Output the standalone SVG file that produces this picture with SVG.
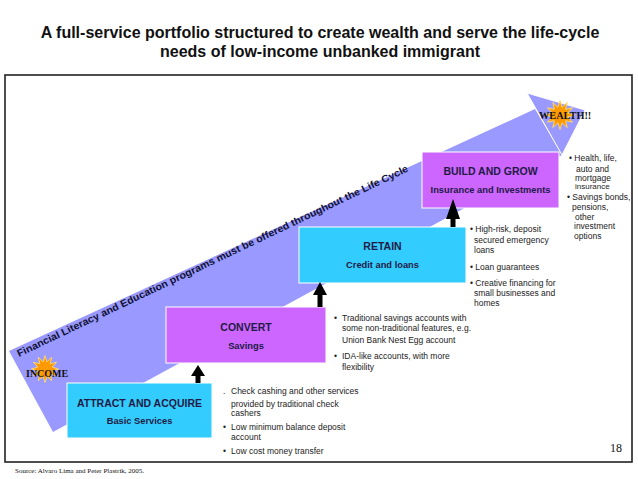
<svg xmlns="http://www.w3.org/2000/svg" xmlns:xlink="http://www.w3.org/1999/xlink" width="638" height="479" viewBox="0 0 638 479">
<style>
  .title{font-family:"Liberation Sans",Arial,sans-serif;font-weight:bold;font-size:16px;fill:#111;text-anchor:middle}
  .box-cyan{fill:#33CCFF;stroke:#ffffff;stroke-width:1}
  .box-purple{fill:#CC66FF;stroke:#ffffff;stroke-width:1}
  .bh{font-family:"Liberation Sans",Arial,sans-serif;font-weight:bold;font-size:10.5px;fill:#221a44;text-anchor:middle}
  .bs{font-family:"Liberation Sans",Arial,sans-serif;font-weight:bold;font-size:9.3px;fill:#221a44;text-anchor:middle}
  .bl{font-family:"Liberation Sans",Arial,sans-serif;font-size:8.5px;fill:#222}
  .serif{font-family:"Liberation Serif","Times New Roman",serif;fill:#111}
  .star{fill:#FF9900;stroke:#FFE070;stroke-width:0.6}
  .up{fill:#000}
</style>
<defs>
  <polygon id="star" points="10,0 5.31,1.42 8.66,5 3.89,3.89 5,8.66 1.42,5.31 0,10 -1.42,5.31 -5,8.66 -3.89,3.89 -8.66,5 -5.31,1.42 -10,0 -5.31,-1.42 -8.66,-5 -3.89,-3.89 -5,-8.66 -1.42,-5.31 0,-10 1.42,-5.31 5,-8.66 3.89,-3.89 8.66,-5 5.31,-1.42"/>
</defs>
<rect width="638" height="479" fill="#ffffff"/>
<text class="title" x="320" y="38">A full-service portfolio structured to create wealth and serve the life-cycle</text>
<text class="title" x="320" y="57">needs of low-income unbanked immigrant</text>
<rect id="frame" x="5" y="75" width="627" height="387" fill="#ffffff" stroke="#222" stroke-width="1.6"/>

<g id="lifecycle-band">
  <polygon points="9,351 535,109 562,155 53,432" fill="#9999FF"/>
  <polygon points="527,93 585,110 562,155" fill="#9999FF" stroke="#ffffff" stroke-width="1"/>
  <text transform="translate(19,357) rotate(-25.5)" x="0" y="0" textLength="432" lengthAdjust="spacingAndGlyphs" style="font-family:'Liberation Sans',Arial,sans-serif;font-weight:bold;font-size:10px;fill:#111133">Financial Literacy and Education programs must be offered throughout the Life Cycle</text>
</g>

<g id="income">
  <use xlink:href="#star" class="star" transform="translate(45,369) scale(1.35)"/>
  <text class="serif" x="26" y="377" style="font-weight:bold;font-size:10px">INCOME</text>
</g>
<g id="wealth">
  <use xlink:href="#star" class="star" transform="translate(560,115) scale(1.45)"/>
  <text class="serif" x="539" y="119" style="font-weight:bold;font-size:10.3px">WEALTH!!</text>
</g>

<g id="attract">
  <rect class="box-cyan" x="67" y="383" width="145" height="55"/>
  <text class="bh" x="139.5" y="407">ATTRACT AND ACQUIRE</text>
  <text class="bs" x="139.5" y="424">Basic Services</text>
</g>
<g id="convert">
  <rect class="box-purple" x="166" y="307" width="160" height="56"/>
  <text class="bh" x="246" y="331">CONVERT</text>
  <text class="bs" x="246" y="349">Savings</text>
</g>
<g id="retain">
  <rect class="box-cyan" x="299" y="227" width="167" height="56"/>
  <text class="bh" x="382.5" y="250">RETAIN</text>
  <text class="bs" x="382.5" y="268">Credit and loans</text>
</g>
<g id="build">
  <rect class="box-purple" x="422" y="152" width="137" height="56"/>
  <text class="bh" x="490.5" y="175">BUILD AND GROW</text>
  <text class="bs" x="490.5" y="193">Insurance and Investments</text>
</g>

<g id="connectors">
  <polygon class="up" points="198,365 205,376 200.5,376 200.5,383 195.5,383 195.5,376 191,376"/>
  <polygon class="up" points="320,282 327,295 322.5,295 322.5,307 317.5,307 317.5,295 313,295"/>
  <polygon class="up" points="453,199 460,219 455.5,219 455.5,227 450.5,227 450.5,219 446,219"/>
</g>

<g id="attract-notes">
  <text class="bl" x="223" y="394">.</text>
  <text class="bl" x="231" y="394">Check cashing and other services</text>
  <text class="bl" x="231" y="407">provided by traditional check</text>
  <text class="bl" x="231" y="416">cashers</text>
  <text class="bl" x="223" y="430">•</text>
  <text class="bl" x="231" y="430">Low  minimum balance deposit</text>
  <text class="bl" x="231" y="440">account</text>
  <text class="bl" x="223" y="454">•</text>
  <text class="bl" x="231" y="454">Low cost money transfer</text>
</g>
<g id="convert-notes">
  <text class="bl" x="334" y="321">•</text>
  <text class="bl" x="342" y="321">Traditional savings accounts with</text>
  <text class="bl" x="342" y="331">some non-traditional features, e.g.</text>
  <text class="bl" x="342" y="343">Union Bank Nest Egg account</text>
  <text class="bl" x="334" y="359">•</text>
  <text class="bl" x="342" y="359">IDA-like accounts, with more</text>
  <text class="bl" x="342" y="370">flexibility</text>
</g>
<g id="retain-notes">
  <text class="bl" x="470" y="232">• High-risk, deposit</text>
  <text class="bl" x="474" y="243">secured emergency</text>
  <text class="bl" x="474" y="253">loans</text>
  <text class="bl" x="470" y="270">• Loan guarantees</text>
  <text class="bl" x="470" y="286">• Creative financing for</text>
  <text class="bl" x="474" y="296">small businesses and</text>
  <text class="bl" x="474" y="306">homes</text>
</g>
<g id="build-notes">
  <text class="bl" x="569" y="161">• Health, life,</text>
  <text class="bl" x="576" y="172">auto and</text>
  <text class="bl" x="575" y="181">mortgage</text>
  <text class="bl" x="575" y="189" style="font-size:8px">insurance</text>
  <text class="bl" x="567" y="200">• Savings bonds,</text>
  <text class="bl" x="572" y="210">pensions,</text>
  <text class="bl" x="575" y="220">other</text>
  <text class="bl" x="574" y="229">investment</text>
  <text class="bl" x="574" y="239">options</text>
</g>

<text class="serif" x="610" y="452" style="font-size:12px">18</text>
<text class="serif" x="15" y="473" style="font-size:7px">Source: Alvaro Lima and Peter Plastrik, 2005.</text>
</svg>
